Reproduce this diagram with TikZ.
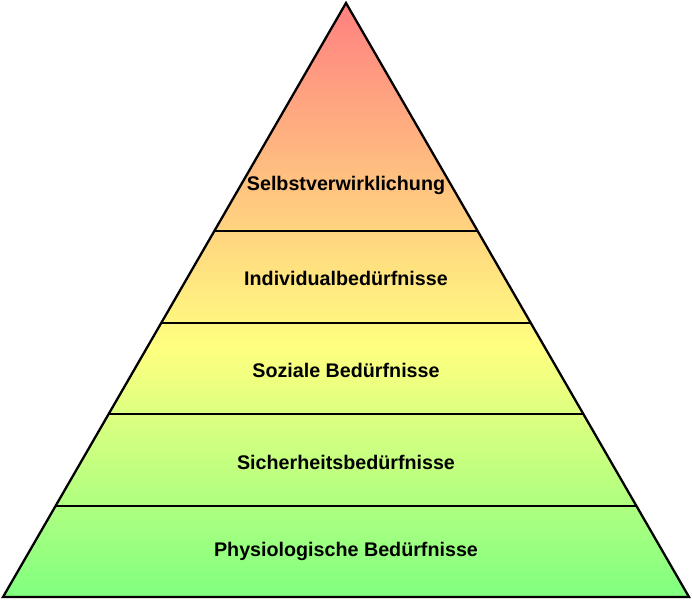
\documentclass[tikz,border=0pt]{standalone}
\usepackage{fontspec}
\setmainfont{Liberation Sans}
\definecolor{rot}{HTML}{FF8080}
\definecolor{gelb}{HTML}{FFFF80}
\definecolor{gruen}{HTML}{80FF80}
\pgfdeclareverticalshading{pyramide}{100bp}{color(0bp)=(gruen); color(25bp)=(gruen); color(46bp)=(gelb); color(75bp)=(rot); color(100bp)=(rot)}
\begin{document}
\begin{tikzpicture}[x=1pt, y=1pt]
\tikzset{stufe/.style={font=\fontsize{19.7}{22}\selectfont\bfseries, inner sep=0pt}}
\useasboundingbox (0, 0) rectangle (692, 599);
\shade[shading=pyramide] (3, 2) -- (346, 596) -- (689, 2) -- cycle;
\draw[line width=2.3pt, line join=miter] (3, 2) -- (346, 596) -- (689, 2) -- cycle;
\draw[line width=2.3pt] (214.5, 368) -- (477.5, 368);
\draw[line width=2.3pt] (161.5, 276) -- (530.5, 276);
\draw[line width=2.3pt] (108.5, 185) -- (583.5, 185);
\draw[line width=2.3pt] (55.5, 93) -- (636.5, 93);
\node[stufe] (S5) at (346, 413.5) {Selbstverwirklichung};
\node[stufe] (S4) at (346, 320.5) {Individualbedürfnisse};
\node[stufe] (S3) at (346, 228.5) {Soziale Bedürfnisse};
\node[stufe] (S2) at (346, 136.5) {Sicherheitsbedürfnisse};
\node[stufe] (S1) at (346, 47.5) {Physiologische Bedürfnisse};
\end{tikzpicture}
\end{document}
